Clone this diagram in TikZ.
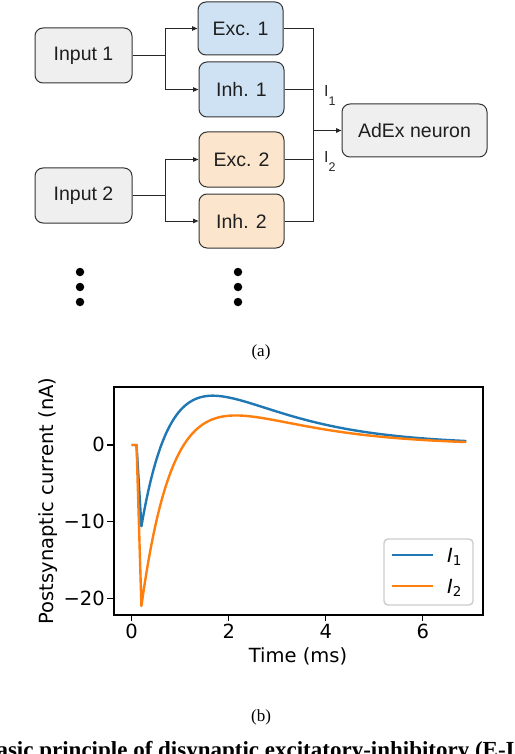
\documentclass[tikz,border=0pt]{standalone}
\usepackage{fontspec}
\setmainfont{Liberation Sans}
\newfontfamily\dejavu{DejaVu Sans}
\newfontfamily\timesf{Liberation Serif}
\usetikzlibrary{arrows.meta}
\definecolor{boxgray}{HTML}{EFEFEF}
\definecolor{boxblue}{HTML}{CFE2F3}
\definecolor{boxorange}{HTML}{FCE5CD}
\definecolor{boxedge}{HTML}{333333}
\definecolor{mplblue}{HTML}{1F77B4}
\definecolor{mplorange}{HTML}{FF7F0E}
\definecolor{legedge}{HTML}{CCCCCC}
\begin{document}
\begin{tikzpicture}[x=1pt,y=-1pt,
  box/.style={draw=boxedge, line width=1pt, rounded corners=8pt, inner sep=0pt,
    font=\fontsize{19.5}{19.5}\selectfont, text=black!88},
  conn/.style={draw=black!85, line width=1pt},
  arr/.style={conn, -{Triangle[length=5.5pt,width=4.5pt]}},
  dotnode/.style={circle, fill=black, inner sep=0pt, minimum size=8.5pt},
  capt/.style={font=\timesf\fontsize{17}{17}\selectfont, inner sep=0pt},
  ticklab/.style={font=\dejavu\fontsize{19.5}{19.5}\selectfont, inner sep=0pt},
  curve/.style={line width=2.4pt, line join=round}]
\useasboundingbox (0,0) rectangle (514,754);

% ---------- (a) block diagram ----------
\node[box, fill=boxgray, minimum width=97pt, minimum height=55pt] (in1) at (83.5,55.5) {Input 1};
\node[box, fill=boxgray, minimum width=97pt, minimum height=55pt] (in2) at (83.5,195.5) {Input 2};
\node[box, fill=boxblue, minimum width=85pt, minimum height=53pt] (exc1) at (240.5,28.5) {Exc. 1};
\node[box, fill=boxblue, minimum width=85pt, minimum height=55pt] (inh1) at (241.5,89.5) {Inh. 1};
\node[box, fill=boxorange, minimum width=85pt, minimum height=55pt] (exc2) at (241.5,159.5) {Exc. 2};
\node[box, fill=boxorange, minimum width=85pt, minimum height=54pt] (inh2) at (241.5,221) {Inh. 2};
\node[box, fill=boxgray, minimum width=145pt, minimum height=53pt] (adex) at (414.5,130.5) {AdEx neuron};

\coordinate (s1) at (165,55.5);
\coordinate (s2) at (165,195.5);
\coordinate (bus) at (313,130.5);

\draw[conn] (in1.east) -- (s1);
\draw[arr] (s1) |- (exc1.west);
\draw[arr] (s1) |- (inh1.west);
\draw[conn] (in2.east) -- (s2);
\draw[arr] (s2) |- (exc2.west);
\draw[arr] (s2) |- (inh2.west);

\draw[conn] (exc1.east) -| (bus);
\draw[conn] (inh2.east) -| (bus);
\draw[conn] (inh1.east) -- (inh1.east -| bus);
\draw[conn] (exc2.east) -- (exc2.east -| bus);
\draw[arr, line width=1.5pt] (bus) -- (adex.west);

\node[anchor=base west, inner sep=0pt, font=\fontsize{16}{16}\selectfont, text=black!85] (lab1) at (324,96.7)
  {I\raisebox{-9.3pt}{\fontsize{12.5}{12.5}\selectfont 1}};
\node[anchor=base west, inner sep=0pt, font=\fontsize{16}{16}\selectfont, text=black!85] (lab2) at (324,162.5)
  {I\raisebox{-9.3pt}{\fontsize{12.5}{12.5}\selectfont 2}};

\node[dotnode] (dl1) at (80,272) {};
\node[dotnode] (dl2) at (80,287) {};
\node[dotnode] (dl3) at (80,302) {};
\node[dotnode] (dr1) at (238,272) {};
\node[dotnode] (dr2) at (238,287) {};
\node[dotnode] (dr3) at (238,302) {};

\node[capt] (capa) at (261,352) {(a)};

% ---------- (b) plot ----------
\begin{scope}[shift={(131.7pt,-445pt)}, x=48.5pt, y=7.667pt]
  \draw[mplblue, curve] (0,0) -- (0.1,0) -- (0.2,-10.6) --
    plot[domain=0:6.7, samples=140] ({\x+0.2},{25.5*exp(-\x/1.72)-36.1*exp(-\x/0.7)});
  \draw[mplorange, curve] (0,0) -- (0.1,0) -- (0.2,-21) --
    plot[domain=0:6.7, samples=140] ({\x+0.2},{22.6*exp(-\x/1.65)-43.6*exp(-\x/0.736)});
  \draw[line width=1.5pt] (-0.365,-22.17) rectangle (7.243,7.565);
  \foreach \t in {0,2,4,6} {
    \draw[line width=1.5pt] (\t,-22.17) -- ++(0,-6.5pt);
    \node[ticklab, anchor=base] at ([yshift=-23.3pt]\t,-22.17) {\t};
  }
  \foreach \v/\s in {0/0,-10/−10,-20/−20} {
    \draw[line width=1.5pt] (-0.365,\v) -- ++(-6.5pt,0);
    \node[ticklab, anchor=base east] at ([xshift=-9pt,yshift=-6.7pt]-0.365,\v) {\s};
  }
\end{scope}

\node[ticklab, anchor=base] (xlab) at (298,662) {Time (ms)};
\node[ticklab, anchor=base, rotate=90] (ylab) at (53.5,501) {Postsynaptic current (nA)};

% legend
\draw[draw=legedge, fill=white, fill opacity=0.8, line width=1.4pt, rounded corners=4pt] (384,539) rectangle (473,605);
\draw[mplblue, curve] (392,555) -- (433,555);
\draw[mplorange, curve] (392,586) -- (433,586);
\node[ticklab, anchor=base west] (leg1) at (447,562.5)
  {\itshape I\upshape\raisebox{-3pt}{\fontsize{13.5}{13.5}\selectfont 1}};
\node[ticklab, anchor=base west] (leg2) at (447,593.3)
  {\itshape I\upshape\raisebox{-3pt}{\fontsize{13.5}{13.5}\selectfont 2}};

\node[capt] (capb) at (261,717) {(b)};

% caption of the page, cut off by the lower edge as in the reference
\begin{scope}
  \clip (0,0) rectangle (514,754);
  \node[anchor=base west, inner sep=0pt, font=\timesf\bfseries\fontsize{23}{23}\selectfont] (figcap) at (-19,757.5)
    {Basic principle of disynaptic excitatory-inhibitory (E-I)};
\end{scope}
\end{tikzpicture}
\end{document}
